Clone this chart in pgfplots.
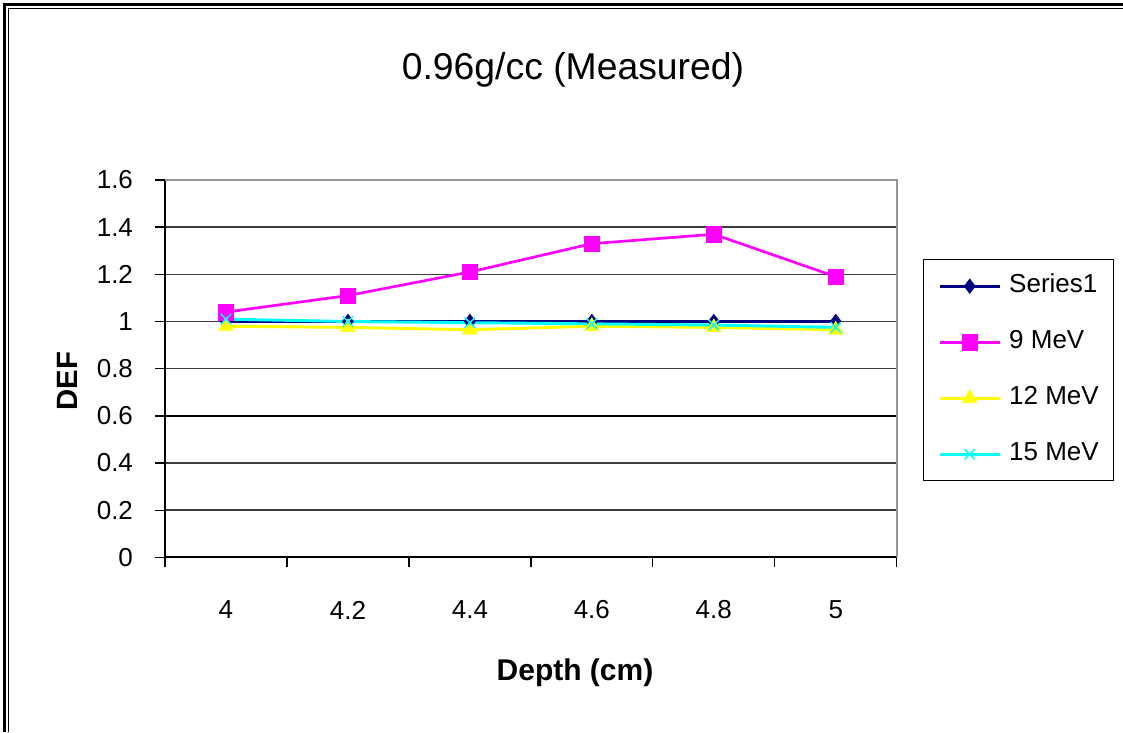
\documentclass[border=0pt]{standalone}
\usepackage{pgfplots}
\pgfplotsset{compat=1.18}
\usepackage{fontspec}
\setmainfont{Liberation Sans}
\definecolor{sNavy}{RGB}{0,0,128}
\definecolor{sMag}{RGB}{255,0,255}
\definecolor{sYel}{RGB}{255,255,0}
\definecolor{sCyan}{RGB}{0,255,255}
\definecolor{sGrid}{RGB}{60,60,60}
\definecolor{sFrame}{RGB}{150,150,150}
\begin{document}
\begin{tikzpicture}[x=0.75pt,y=0.75pt]
\useasboundingbox (0,0) rectangle (1123,732);
\draw[line width=2.4pt] (4.5,0) -- (4.5,727.5) -- (1123,727.5);
\draw[line width=1.1pt] (8.3,0) -- (8.3,723.7) -- (1123,723.7);
\node[font=\fontsize{28}{32}\selectfont] at (573,662) {0.96g/cc (Measured)};
\node[font=\fontsize{22}{26}\bfseries\selectfont, rotate=90] at (67,351) {DEF};
\node[font=\fontsize{22.5}{26}\bfseries\selectfont] at (575,59) {Depth (cm)};
\begin{axis}[
  at={(123.75pt,131pt)}, anchor=south west, scale only axis,
  width=548.8pt, height=283pt,
  xmin=-0.5, xmax=5.5, ymin=0, ymax=1.6,
  xtick={-0.5,0.5,1.5,2.5,3.5,4.5,5.5}, x tick label as interval,
  xticklabels={4,4.2,4.4,4.6,4.8,5},
  ytick={0,0.2,0.4,0.6,0.8,1,1.2,1.4,1.6},
  yticklabels={0,0.2,0.4,0.6,0.8,1,1.2,1.4,1.6},
  xtick pos=bottom, ytick pos=left,
  tick align=outside, major tick length=7.5pt,
  tick style={black, line width=1pt},
  ymajorgrids, xmajorgrids=false, major grid style={sGrid, line width=1.2pt},
  axis line style={draw=none},
  tick label style={font=\fontsize{19.5}{22}\selectfont},
  xticklabel style={anchor=center, yshift=-32pt},
  yticklabel style={anchor=east, xshift=-13pt},
  legend style={at={(1.036,0.7906)}, anchor=north west, draw=black, line width=0.8pt,
    inner xsep=11pt, inner ysep=11pt, row sep=24pt, column sep=6pt,
    nodes={inner sep=0pt, text height=14pt, text depth=4pt, font=\fontsize{19.5}{22}\selectfont}},
  legend cell align=left,
  legend image code/.code={\draw[mark repeat=2,mark phase=2,#1] plot coordinates {(0pt,0pt)(22.5pt,0pt)(45pt,0pt)};},
  after end axis/.code={
    \draw[black, line width=1.5pt] (rel axis cs:0,1) -- (rel axis cs:0,0) -- (rel axis cs:1,0);
    \draw[sFrame, line width=1.6pt] (rel axis cs:0,1) -- (rel axis cs:1,1) -- (rel axis cs:1,0);
  },
]
\draw[black, line width=2pt] (axis cs:-0.5,0.6) -- (axis cs:5.5,0.6);
\addplot[sNavy, line width=2.2pt, mark=diamond*, mark size=5.5pt, mark options={solid, fill=sNavy, draw=sNavy, line width=0.4pt}]
  coordinates {(0,1.0) (1,1.0) (2,1.0) (3,1.0) (4,1.0) (5,1.0)};
\addlegendentry{Series1}
\addplot[sMag, line width=2pt, mark=square*, mark size=5.8pt, mark options={solid, fill=sMag, draw=sMag, line width=0.4pt}]
  coordinates {(0,1.04) (1,1.11) (2,1.21) (3,1.33) (4,1.37) (5,1.19)};
\addlegendentry{9 MeV}
\addplot[sYel, line width=2.2pt, mark=triangle*, mark size=6.4pt, mark options={solid, fill=sYel, draw=sYel, line width=0.4pt}]
  coordinates {(0,0.98) (1,0.975) (2,0.965) (3,0.98) (4,0.975) (5,0.965)};
\addlegendentry{12 MeV}
\addplot[sCyan, line width=2.2pt, mark=x, mark size=5.5pt, mark options={solid, draw=sCyan, line width=1.1pt}]
  coordinates {(0,1.01) (1,1.0) (2,0.995) (3,0.99) (4,0.985) (5,0.975)};
\addlegendentry{15 MeV}
\end{axis}
\end{tikzpicture}
\end{document}
